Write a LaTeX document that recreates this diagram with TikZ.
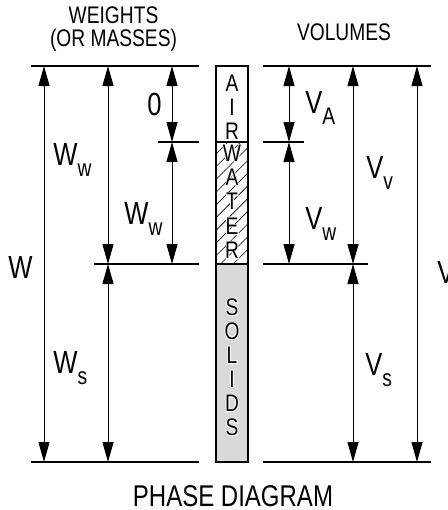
\documentclass[tikz,border=0pt]{standalone}
\usepackage{fontspec}
\setmainfont[FakeStretch=0.8]{Liberation Sans}
\newfontfamily\halofont[FakeStretch=0.8,FakeBold=8]{Liberation Sans}
\usetikzlibrary{arrows.meta,patterns.meta}

\newcommand\lowsub[1]{\raisebox{-5.5pt}{\fontsize{12}{13}\selectfont #1}}
\newcommand\halo[1]{\makebox[0pt]{\halofont\color{white}#1}\makebox[0pt]{#1}}

\begin{document}
\begin{tikzpicture}[x=0.5pt,y=-0.5pt,>={Triangle[length=10pt,width=5.5pt]},
    dim/.style={<->,line width=0.5pt},
    ext/.style={line width=0.6pt},
    ltr/.style={font=\fontsize{12}{12}\selectfont,inner sep=0pt},
    lbl/.style={font=\fontsize{16}{18}\selectfont,inner sep=0pt,anchor=base west},
    head/.style={font=\fontsize{12}{11.5}\selectfont,align=center,inner sep=0pt}]
  \useasboundingbox (0,0) rectangle (448,510);
  % levels of the phase boundaries
  \coordinate (top) at (0,66); \coordinate (ar) at (0,142);
  \coordinate (wt) at (0,264); \coordinate (bot) at (0,462);
  % extension line ends
  \coordinate (wl) at (31,0); \coordinate (wr) at (199,0);
  \coordinate (wa) at (158,0); \coordinate (ws) at (94,0);
  \coordinate (vl) at (263,0); \coordinate (vr) at (431,0);
  \coordinate (va) at (304,0); \coordinate (vs) at (368,0);
  % dimension columns
  \coordinate (xW) at (44,0); \coordinate (xWw) at (108,0); \coordinate (xWa) at (172,0);
  \coordinate (xVa) at (289,0); \coordinate (xVv) at (353,0); \coordinate (xV) at (417,0);

  % phase column
  \fill[black!15] (216,264) rectangle (248,462);
  \fill[pattern={Lines[angle=45,distance=4.5pt,line width=0.3pt]}] (216,142) rectangle (248,264);
  \foreach \ch [count=\i from 0] in {A,I,R}
    \node[ltr] (air\i) at (232,{83+24*\i}) {\ch};
  \foreach \ch [count=\i from 0] in {W,A,T,E,R}
    \node[ltr] (wat\i) at (232,{153+24.3*\i}) {\halo{\ch}};
  \foreach \ch [count=\i from 0] in {S,O,L,I,D,S}
    \node[ltr] (sol\i) at (232,{307+24*\i}) {\halo{\ch}};
  \draw[line width=0.7pt] (216,66) rectangle (248,462) (216,142) -- (248,142) (216,264) -- (248,264);

  % extension lines
  \draw[ext] (top -| wl) -- (top -| wr);
  \draw[ext] (bot -| wl) -- (bot -| wr);
  \draw[ext] (ar -| wa) -- (ar -| wr);
  \draw[ext] (wt -| ws) -- (wt -| wr);
  \draw[ext] (top -| vl) -- (top -| vr);
  \draw[ext] (bot -| vl) -- (bot -| vr);
  \draw[ext] (ar -| vl) -- (ar -| va);
  \draw[ext] (wt -| vl) -- (wt -| vs);

  % dimensions
  \draw[dim] (xW |- top) -- (xW |- bot);
  \draw[dim] (xWw |- top) -- (xWw |- wt);
  \draw[dim] (xWw |- wt) -- (xWw |- bot);
  \draw[dim] (xWa |- top) -- (xWa |- ar);
  \draw[dim] (xWa |- ar) -- (xWa |- wt);
  \draw[dim] (xVa |- top) -- (xVa |- ar);
  \draw[dim] (xVa |- ar) -- (xVa |- wt);
  \draw[dim] (xVv |- top) -- (xVv |- wt);
  \draw[dim] (xVv |- wt) -- (xVv |- bot);
  \draw[dim] (xV |- top) -- (xV |- bot);

  % labels
  \node[lbl] (zero) at (147,115) {0};
  \node[lbl] (Ww1) at (53,165) {W\lowsub{w}};
  \node[lbl] (Ww2) at (124,224) {W\lowsub{w}};
  \node[lbl] (W) at (8,278) {W};
  \node[lbl] (Ws) at (53,373) {W\lowsub{s}};
  \node[lbl] (Va) at (305,113) {V\lowsub{A}};
  \node[lbl] (Vw) at (305,229) {V\lowsub{w}};
  \node[lbl] (Vv) at (366,178) {V\lowsub{v}};
  \node[lbl] (Vs) at (365,375) {V\lowsub{s}};
  \node[lbl] (V) at (437,283) {V};

  \node[head] (wgt) at (113.5,29) {WEIGHTS\\(OR MASSES)};
  \node[head] (vol) at (344,32) {VOLUMES};
  \node[font=\fontsize{15}{18}\selectfont,inner sep=0pt] (title) at (233,496) {PHASE DIAGRAM};
\end{tikzpicture}
\end{document}
